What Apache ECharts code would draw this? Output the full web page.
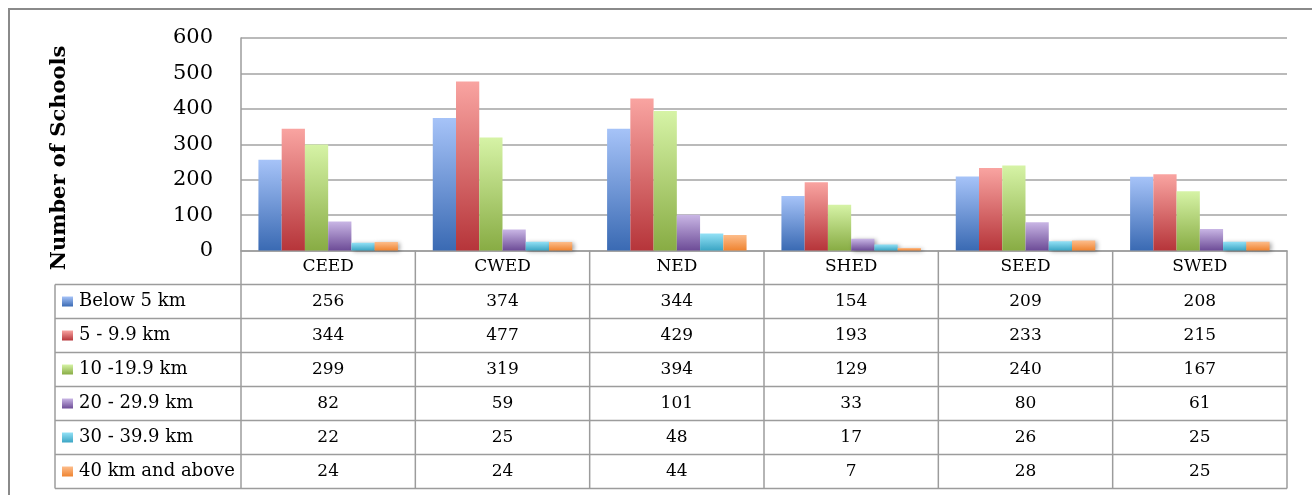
<!DOCTYPE html>
<html>
<head>
<meta charset="utf-8">
<title>Number of Schools by Distance</title>
<script src="https://cdn.jsdelivr.net/npm/echarts@6/dist/echarts.min.js"></script>
<style>
  html, body { margin: 0; padding: 0; background: #ffffff; }
  #chart { width: 1312px; height: 495px; }
</style>
</head>
<body>
<div id="chart"></div>
<script>
// Education districts (categories)
const categories = ['CEED', 'CWED', 'NED', 'SHED', 'SEED', 'SWED'];

// Distance bands (series names)
const seriesNames = ['Below 5 km', '5 - 9.9 km', '10 -19.9 km', '20 - 29.9 km', '30 - 39.9 km', '40 km and above'];

// Number of schools per district for each distance band
const below5km   = [256, 374, 344, 154, 209, 208];
const km5to10    = [344, 477, 429, 193, 233, 215];
const km10to20   = [299, 319, 394, 129, 240, 167];
const km20to30   = [82, 59, 101, 33, 80, 61];
const km30to40   = [22, 25, 48, 17, 26, 25];
const km40above  = [24, 24, 44, 7, 28, 25];

// Value axis ticks
const yMin = 0;
const yMax = 600;
const yStep = 100;

const seriesValues = [below5km, km5to10, km10to20, km20to30, km30to40, km40above];

// Light (top) and dark (bottom) gradient stops for each band
const palette = [
  ['#a6c3f8', '#3a6ab3'],
  ['#f9a4a1', '#b6353a'],
  ['#d6f3a6', '#88ac44'],
  ['#c9b6e5', '#6d4c97'],
  ['#93e1f6', '#3ba5c4'],
  ['#fdbd8b', '#ef8431']
];

const FONT = '"DejaVu Serif", "Liberation Serif", serif';
const LINE = '#9c9c9c';

function grad(pair) {
  return new echarts.graphic.LinearGradient(0, 0, 0, 1, [
    { offset: 0, color: pair[0] },
    { offset: 1, color: pair[1] }
  ]);
}

const chart = echarts.init(document.getElementById('chart'), null, { renderer: 'canvas' });

const option = {
  animation: false,
  backgroundColor: '#ffffff',
  grid: { left: 241, right: 25, top: 38, bottom: 244.5, containLabel: false },
  xAxis: {
    type: 'category',
    data: categories,
    axisLine: { show: true, lineStyle: { color: LINE, width: 1.5 } },
    axisTick: { show: false },
    axisLabel: { color: '#000', fontFamily: FONT, fontSize: 17, margin: 8 },
    splitLine: { show: false }
  },
  yAxis: {
    type: 'value',
    min: yMin,
    max: yMax,
    interval: yStep,
    axisLine: { show: true, lineStyle: { color: LINE, width: 1.5 } },
    axisTick: { show: false },
    axisLabel: { color: '#000', fontFamily: FONT, fontSize: 21, margin: 28 },
    splitLine: { show: true, lineStyle: { color: '#a3a3a3', width: 1.5 } }
  },
  series: seriesNames.map((name, i) => ({
    name: name,
    type: 'bar',
    data: seriesValues[i],
    barGap: '0%',
    barCategoryGap: '20%',
    itemStyle: {
      color: grad(palette[i]),
      shadowBlur: 4,
      shadowColor: 'rgba(0,0,0,0.35)',
      shadowOffsetX: 2,
      shadowOffsetY: 1
    }
  }))
};

chart.setOption(option);

// Data table under the plot, aligned to the category axis
function buildTable() {
  const baseY = chart.convertToPixel({ yAxisIndex: 0 }, 0);
  const c0 = chart.convertToPixel({ xAxisIndex: 0 }, 0);
  const c1 = chart.convertToPixel({ xAxisIndex: 0 }, 1);
  const band = c1 - c0;
  const plotLeft = c0 - band / 2;
  const plotRight = chart.convertToPixel({ xAxisIndex: 0 }, categories.length - 1) + band / 2;
  const tableLeft = 55;
  const rowH = 34;
  const firstRowTop = baseY + rowH;
  const tableBottom = firstRowTop + rowH * seriesNames.length;

  const els = [];
  const line = (x1, y1, x2, y2) => els.push({
    type: 'line', silent: true, z: 10,
    shape: { x1, y1, x2, y2 },
    style: { stroke: LINE, lineWidth: 1.5 }
  });

  // outer chart frame
  els.push({
    type: 'rect', silent: true, z: 1,
    shape: { x: 9, y: 9, width: 1330, height: 520 },
    style: { fill: 'none', stroke: '#8a8a8a', lineWidth: 2 }
  });

  // horizontal rules
  for (let r = 0; r <= seriesNames.length; r++) {
    const y = firstRowTop + r * rowH;
    line(tableLeft, y, plotRight, y);
  }
  // vertical rules
  line(tableLeft, firstRowTop, tableLeft, tableBottom);
  line(plotLeft, baseY, plotLeft, tableBottom);
  for (let c = 1; c <= categories.length; c++) {
    const x = plotLeft + c * band;
    line(x, baseY, x, tableBottom);
  }

  // row labels with legend keys, and values
  seriesNames.forEach((name, r) => {
    const cy = firstRowTop + r * rowH + rowH / 2;
    els.push({
      type: 'rect', silent: true, z: 11,
      shape: { x: 62, y: cy - 5, width: 11, height: 10 },
      style: { fill: grad(palette[r]) }
    });
    els.push({
      type: 'text', silent: true, z: 11,
      x: 79, y: cy,
      style: { text: name, fill: '#000', font: '18px ' + FONT, textAlign: 'left', textVerticalAlign: 'middle' }
    });
    seriesValues[r].forEach((v, c) => {
      els.push({
        type: 'text', silent: true, z: 11,
        x: chart.convertToPixel({ xAxisIndex: 0 }, c), y: cy,
        style: { text: String(v), fill: '#000', font: '17px ' + FONT, textAlign: 'center', textVerticalAlign: 'middle' }
      });
    });
  });

  // value axis title
  els.push({
    type: 'text', silent: true, z: 11,
    x: 60, y: 158, rotation: Math.PI / 2,
    style: { text: 'Number of Schools', fill: '#000', font: 'bold 21px ' + FONT, textAlign: 'center', textVerticalAlign: 'middle' }
  });

  chart.setOption({ graphic: els });
}

buildTable();
</script>
</body>
</html>
